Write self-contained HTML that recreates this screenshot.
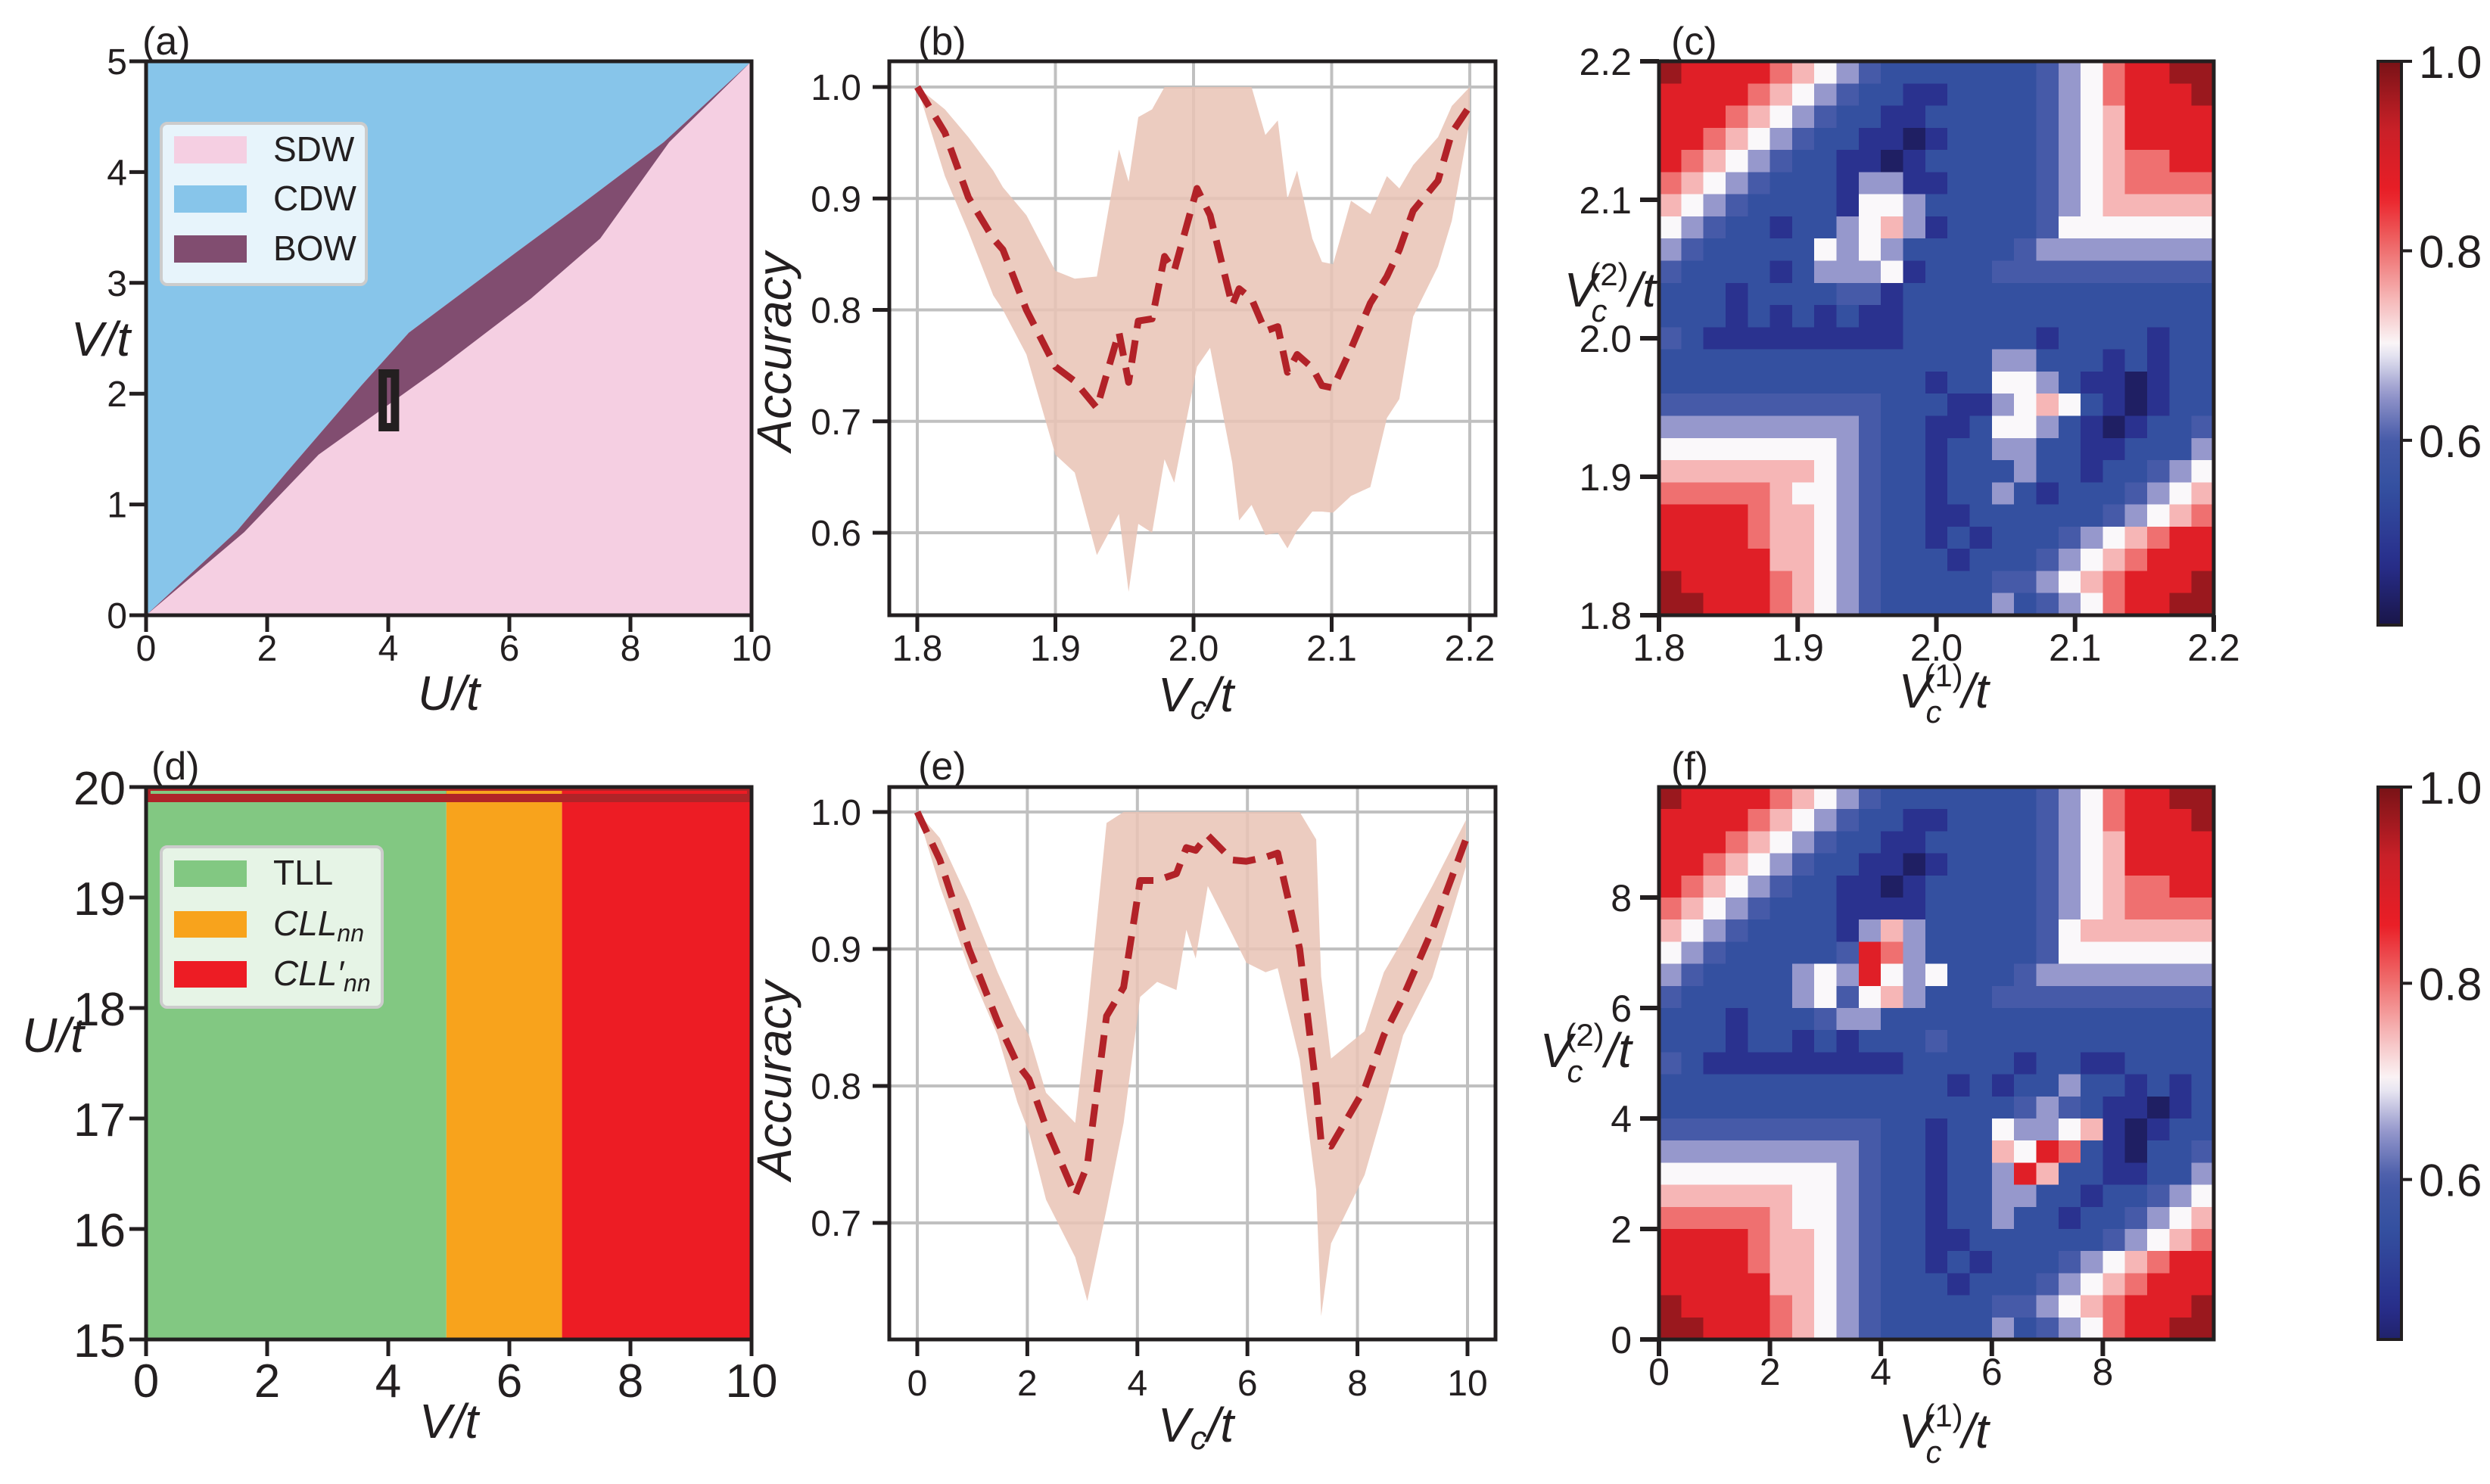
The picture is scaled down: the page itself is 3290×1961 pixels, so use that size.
<!DOCTYPE html>
<html><head><meta charset="utf-8"><style>
html,body{margin:0;padding:0;background:#fff}
svg{display:block}
text{font-family:"Liberation Sans Narrow","Liberation Sans",sans-serif;fill:#231f20}
</style></head><body>
<svg id="fig" xmlns="http://www.w3.org/2000/svg" width="3290" height="1961" viewBox="0 0 3290 1961"></svg>
<script>
// ---------- data ----------
// (a) phase diagram boundaries
const cdwBoundaryU=[0,1.5,2.32,3.55,4.34,6.1,7.24,8.55,10];
const cdwBoundaryV=[0,0.76,1.29,2.07,2.55,3.27,3.73,4.27,5.0];
const sdwBoundaryU=[0,1.62,2.85,4.87,6.36,7.5,8.64,10];
const sdwBoundaryV=[0,0.75,1.45,2.24,2.86,3.4,4.27,5.0];
const markerU=[3.84,4.18];
const markerV=[1.66,2.22];
// (b) accuracy vs Vc/t
const bX=[1.80,1.82,1.837,1.855,1.862,1.879,1.90,1.914,1.93,1.946,1.953,1.96,1.97,1.979,1.986,2.0025,2.012,2.028,2.033,2.042,2.052,2.061,2.068,2.075,2.086,2.093,2.101,2.114,2.128,2.14,2.149,2.159,2.177,2.187,2.20];
const bMean=[1.0,0.959,0.901,0.864,0.854,0.80,0.749,0.736,0.712,0.78,0.735,0.79,0.792,0.848,0.835,0.909,0.885,0.804,0.819,0.81,0.781,0.785,0.744,0.76,0.748,0.732,0.73,0.765,0.806,0.83,0.854,0.889,0.916,0.959,0.983];
const bUpper=[1.0,0.98,0.955,0.925,0.91,0.885,0.835,0.828,0.83,0.944,0.915,0.973,0.98,1.0,1.0,1.0,1.0,1.0,1.0,1.0,0.957,0.97,0.90,0.925,0.864,0.843,0.841,0.898,0.886,0.92,0.909,0.93,0.955,0.983,1.0];
const bLower=[1.0,0.92,0.87,0.813,0.80,0.76,0.67,0.654,0.58,0.617,0.547,0.608,0.60,0.666,0.645,0.749,0.766,0.663,0.611,0.625,0.598,0.60,0.586,0.602,0.619,0.619,0.618,0.633,0.641,0.703,0.72,0.794,0.839,0.88,0.97];
const bXTicks=[1.8,1.9,2.0,2.1,2.2];
const bXTickLabels=["1.8","1.9","2.0","2.1","2.2"];
const bYTicks=[0.6,0.7,0.8,0.9,1.0];
const bYTickLabels=["0.6","0.7","0.8","0.9","1.0"];
// (e) accuracy vs Vc/t
const eX=[0,0.41,0.94,1.46,1.82,2.03,2.34,2.87,3.09,3.44,3.75,4.05,4.36,4.71,4.89,5.06,5.28,5.72,5.98,6.33,6.55,6.95,7.25,7.34,7.52,8.13,8.48,8.83,9.36,9.97];
const eMean=[1.0,0.965,0.90,0.847,0.816,0.805,0.77,0.72,0.742,0.851,0.872,0.95,0.95,0.955,0.974,0.972,0.983,0.965,0.964,0.967,0.97,0.90,0.798,0.759,0.756,0.798,0.837,0.865,0.914,0.98];
const eUpper=[1.0,0.981,0.935,0.883,0.851,0.837,0.795,0.773,0.851,0.992,1.0,1.0,1.0,1.0,1.0,1.0,1.0,1.0,1.0,1.0,1.0,1.0,0.98,0.88,0.82,0.84,0.883,0.907,0.946,0.994];
const eLower=[1.0,0.946,0.886,0.837,0.788,0.766,0.717,0.675,0.643,0.71,0.773,0.865,0.876,0.87,0.914,0.893,0.946,0.911,0.89,0.883,0.886,0.819,0.724,0.632,0.685,0.735,0.784,0.837,0.879,0.96];
const eXTicks=[0,2,4,6,8,10];
const eYTicks=[0.7,0.8,0.9,1.0];
const eYTickLabels=["0.7","0.8","0.9","1.0"];
// (d) phases along V/t
const phaseNames=["TLL","CLLnn","CLL'nn"];
const phaseStart=[0,4.96,6.87];
const phaseEnd=[4.96,6.87,10];
const dYTicks=[15,16,17,18,19,20];
// heatmap levels (digit code -> accuracy)
const levelValues=[0.43,0.48,0.55,0.60,0.65,0.70,0.75,0.80,0.88,0.97];
const heatC=[
"9888876543222222234578899","8888765432211222234578889","8887654322112222234568888","8876543221101222234568888","8765432211012222234567788",
"7654322214411222234567777","6543222215542222234566666","5432212245641222235555555","4322222545422222344444444","3222212444512223333333333",
"2221222233122222222222222","2221212121122222222222222","3211111111122222212222122","2222222222222224422212122","2222222222221225542110122",
"3333333333222114565210122","4444444443221125542101223","5555555543221224422112224","6666666543221222422122345","7777765543221224212223456",
"8888766543221122222234567","8888766543221212223456788","8888866543222122234567888","9888876543222223345678889","9988876543222224234578899"];
const heatF=[
"9888876543222222234578899","8888765432211222234578889","8887654322112222234568888","8876543221101222234568888","8765432211012222234567788",
"7654322211112222234567777","6543222214642222235666666","5432222238742222235555555","4322224548545222344444444","3222224535642223333333333",
"2221222344222222222222222","2221221212223222222222222","3211111111122222122112222","2222222222222121224221212","2222222222222222343211012",
"3333333333221225445610122","4444444443221226587210223","5555555543221224862211224","6666665543221224422122345","7777765543221224221223456",
"8888766543221122222234567","8888766543221212223456788","8888866543222122234567888","9888876543222223345678889","9988876543222224234578899"];
const cTicks=[1.8,1.9,2.0,2.1,2.2];
const cTickLabels=["1.8","1.9","2.0","2.1","2.2"];
const fTicks=[0,2,4,6,8];
const cbTicks=[0.6,0.8,1.0];
const cbTickLabels=["0.6","0.8","1.0"];

// ---------- helpers ----------
const NS="http://www.w3.org/2000/svg";
const svg=document.getElementById('fig');
function mk(tag,attrs,parent){const e=document.createElementNS(NS,tag);for(const k in attrs)e.setAttribute(k,attrs[k]);(parent||svg).appendChild(e);return e;}
const cmapStops=[[0.40,[24,20,68]],[0.47,[40,46,140]],[0.55,[52,80,160]],[0.60,[70,90,168]],[0.65,[150,152,204]],[0.70,[250,248,250]],[0.75,[246,182,182]],[0.80,[239,112,112]],[0.86,[234,30,38]],[0.93,[200,32,40]],[1.0,[120,18,22]]];
function cmap(v){
  if(v<=cmapStops[0][0])return 'rgb('+cmapStops[0][1].join(',')+')';
  for(let i=1;i<cmapStops.length;i++){
    if(v<=cmapStops[i][0]){const a=cmapStops[i-1],b=cmapStops[i];const t=(v-a[0])/(b[0]-a[0]);
      return 'rgb('+[0,1,2].map(k=>Math.round(a[1][k]+t*(b[1][k]-a[1][k]))).join(',')+')';}
  }
  return 'rgb('+cmapStops[cmapStops.length-1][1].join(',')+')';
}
const INK='#231f20';
function text(x,y,s,size,anchor,parent,extra){const t=mk('text',Object.assign({x:x,y:y,'font-size':size,'text-anchor':anchor||'middle'},extra||{}),parent);t.textContent=s;return t;}

// ================= (a) =================
(function(){
  const L=193,R=993,T=81,B=813;
  const X=u=>L+(u/10)*(R-L), Y=v=>B-(v/5)*(B-T);
  const g=mk('g',{});
  
  
  let r=mk('rect',{x:L,y:T,width:R-L,height:B-T,fill:'#f5cfe2'},g);
  
  
  let p='M'+X(0)+','+Y(5)+' ';
  cdwBoundaryU.forEach((u,i)=>{p+='L'+X(u)+','+Y(cdwBoundaryV[i])+' ';});
  p+='L'+X(10)+','+Y(5)+'Z';
  let cdw=mk('path',{d:p,fill:'#87c5ea'},g);
  
  
  let q='M'+X(cdwBoundaryU[0])+','+Y(cdwBoundaryV[0])+' ';
  cdwBoundaryU.forEach((u,i)=>{q+='L'+X(u)+','+Y(cdwBoundaryV[i])+' ';});
  for(let i=sdwBoundaryU.length-1;i>=0;i--){q+='L'+X(sdwBoundaryU[i])+','+Y(sdwBoundaryV[i])+' ';}
  q+='Z';
  let bow=mk('path',{d:q,fill:'#814d70'},g);
  
  
  let m=mk('rect',{x:X(markerU[0])+5.5,y:Y(markerV[1])+5.5,width:X(markerU[1])-X(markerU[0])-11,height:Y(markerV[0])-Y(markerV[1])-11,fill:'none',stroke:INK,'stroke-width':11},g);
  
  
  let sp=mk('rect',{x:L,y:T,width:R-L,height:B-T,fill:'none',stroke:INK,'stroke-width':5},g);
  
  
  [0,2,4,6,8,10].forEach(u=>{
    let tk=mk('line',{x1:X(u),x2:X(u),y1:B,y2:B+22,stroke:INK,'stroke-width':5},g);
    
    
    let tl=text(X(u),873,String(u),48,'middle',g);
    
    
  });
  [0,1,2,3,4,5].forEach(v=>{
    let tk=mk('line',{x1:L-22,x2:L,y1:Y(v),y2:Y(v),stroke:INK,'stroke-width':5},g);
    
    
    let tl=text(168,Y(v)+17,String(v),48,'end',g);
    
    
  });
  let xl=text(593,938,'U/t',64,'middle',g,{'font-style':'italic'});
  
  
  let yl=text(133,470,'V/t',64,'middle',g,{'font-style':'italic'});
  
  
  let pl=text(188,72,'(a)',52,'start',g);
  
  
  // legend
  let lg=mk('g',{},g);
  
  
  mk('rect',{x:213,y:163,width:271,height:213,rx:8,fill:'#ffffff','fill-opacity':0.8,stroke:'#cccccc','stroke-width':4},lg);
  const names=['SDW','CDW','BOW'],cols=['#f5cfe2','#87c5ea','#814d70'],ys=[180,245,311];
  names.forEach((n,i)=>{
    let e=mk('g',{},lg);
    
    
    mk('rect',{x:230,y:ys[i],width:96,height:36,fill:cols[i]},e);
    text(361,ys[i]+33,n,46,'start',e);
  });
})();

// ================= (d) =================
(function(){
  const L=193,R=993,T=1040,B=1770;
  const X=v=>L+(v/10)*(R-L), Y=u=>B-((u-15)/5)*(B-T);
  const cols=['#82c882','#f8a31c','#ed1c24'];
  const g=mk('g',{});
  
  
  phaseNames.forEach((n,i)=>{
    let r=mk('rect',{x:X(phaseStart[i]),y:T,width:X(phaseEnd[i])-X(phaseStart[i]),height:B-T,fill:cols[i]},g);
    
    
  });
  let band=mk('rect',{x:L,y:1042,width:R-L,height:18,fill:'#b02428'},g);
  
  
  phaseNames.forEach((n,i)=>{
    let s=mk('rect',{x:Math.max(X(phaseStart[i]),199),y:1045,width:X(phaseEnd[i])-Math.max(X(phaseStart[i]),199)-(i==2?6:0),height:4,fill:cols[i]},g);
    
    
  });
  let sp=mk('rect',{x:L,y:T,width:R-L,height:B-T,fill:'none',stroke:INK,'stroke-width':5},g);
  
  
  [0,2,4,6,8,10].forEach(v=>{
    let tk=mk('line',{x1:X(v),x2:X(v),y1:B,y2:B+22,stroke:INK,'stroke-width':5},g);
    
    
    let tl=text(X(v),1846,String(v),62,'middle',g);
    
    
  });
  dYTicks.forEach(u=>{
    let tk=mk('line',{x1:L-22,x2:L,y1:Y(u),y2:Y(u),stroke:INK,'stroke-width':5},g);
    
    
    let tl=text(166,Y(u)+23,String(u),62,'end',g);
    
    
  });
  let xl=text(593,1900,'V/t',64,'middle',g,{'font-style':'italic'});
  
  
  let yl=text(70,1390,'U/t',64,'middle',g,{'font-style':'italic'});
  
  
  let pl=text(200,1030,'(d)',52,'start',g);
  
  
  let lg=mk('g',{},g);
  
  
  mk('rect',{x:213,y:1119,width:292,height:212,rx:8,fill:'#ffffff','fill-opacity':0.8,stroke:'#cccccc','stroke-width':4},lg);
  const ys=[1137,1204,1270];
  phaseNames.forEach((n,i)=>{
    let e=mk('g',{},lg);
    
    
    mk('rect',{x:230,y:ys[i],width:96,height:35,fill:cols[i]},e);
    const t=mk('text',{x:361,y:ys[i]+32,'font-size':46,'text-anchor':'start'},e);
    if(i==0){t.textContent='TLL';}
    else{
      const a=mk('tspan',{'font-style':'italic'},t);a.textContent=(i==1?'CLL':"CLL\u2032");
      const b=mk('tspan',{'font-style':'italic','font-size':32,dy:8},t);b.textContent='nn';
    }
  });
})();

// ================= line panels (b),(e) =================
function linePanel(name,label,T,B,xs,mean,up,lo,xmin,xmax,x0px,x1px,xTicks,xTickLabels,yTicks,yTickLabels,yAt1,yAtLow,yLowVal,tickLabelY,xTitleY,yTitleY,labelY){
  const L=1175,R=1976;
  const X=v=>x0px+(v-xmin)/(xmax-xmin)*(x1px-x0px);
  const Y=a=>yAt1+(1-a)/(1-yLowVal)*(yAtLow-yAt1);
  const g=mk('g',{});
  
  
  const cp=mk('clipPath',{id:name+'-clip'},g);
  mk('rect',{x:L,y:T,width:R-L,height:B-T},cp);
  const gg=mk('g',{},g);
  
  
  xTicks.forEach(v=>mk('line',{x1:X(v),x2:X(v),y1:T,y2:B,stroke:'#c0c0c0','stroke-width':4},gg));
  yTicks.forEach(v=>mk('line',{x1:L,x2:R,y1:Y(v),y2:Y(v),stroke:'#c0c0c0','stroke-width':4},gg));
  let d='M'+X(xs[0])+','+Y(up[0]);
  for(let i=1;i<xs.length;i++)d+=' L'+X(xs[i])+','+Y(up[i]);
  for(let i=xs.length-1;i>=0;i--)d+=' L'+X(xs[i])+','+Y(lo[i]);
  d+='Z';
  const band=mk('path',{d:d,fill:'#e9c3b5','fill-opacity':0.85,'clip-path':'url(#'+name+'-clip)'},g);
  
  
  let m='M'+X(xs[0])+','+Y(mean[0]);
  for(let i=1;i<xs.length;i++)m+=' L'+X(xs[i])+','+Y(mean[i]);
  const ln=mk('path',{d:m,fill:'none',stroke:'#b22228','stroke-width':9,'stroke-dasharray':'30,16','stroke-linejoin':'round'},g);
  
  
  const sp=mk('rect',{x:L,y:T,width:R-L,height:B-T,fill:'none',stroke:INK,'stroke-width':5},g);
  
  
  xTicks.forEach((v,i)=>{
    let tk=mk('line',{x1:X(v),x2:X(v),y1:B,y2:B+22,stroke:INK,'stroke-width':5},g);
    
    
    let tl=text(X(v),tickLabelY,xTickLabels[i],48,'middle',g);
    
    
  });
  yTicks.forEach((v,i)=>{
    let tk=mk('line',{x1:L-22,x2:L,y1:Y(v),y2:Y(v),stroke:INK,'stroke-width':5},g);
    
    
    let tl=text(1138,Y(v)+17,yTickLabels[i],48,'end',g);
    
    
  });
  const xt=mk('text',{x:1580,y:xTitleY,'font-size':64,'text-anchor':'middle','font-style':'italic'},g);
  
  
  const t1=mk('tspan',{},xt);t1.textContent='V';
  const t2=mk('tspan',{'font-size':44,dy:10},xt);t2.textContent='c';
  const t3=mk('tspan',{dy:-10},xt);t3.textContent='/t';
  const yt=text(1045,yTitleY,'Accuracy',64,'middle',g,{'font-style':'italic',transform:'rotate(-90 1045 '+yTitleY+')'});
  
  
  const pl=text(1213,labelY,label,52,'start',g);
  
  
}
linePanel('panel-b','(b)',81,813,bX,bMean,bUpper,bLower,1.8,2.2,1212,1942,bXTicks,bXTickLabels,bYTicks,bYTickLabels,115,704,0.6,873,940,465,72);
linePanel('panel-e','(e)',1040,1770,eX,eMean,eUpper,eLower,0,10,1212,1939,eXTicks,eXTicks.map(String),eYTicks,eYTickLabels,1073,1616,0.7,1844,1905,1428,1030);

// ================= heatmaps (c),(f) =================
function heatPanel(name,label,T,B,grid,ticks,tickLabels,tickMin,tickMax,labelY,yTitleX,yTitleY,xTitleY,cbMin,cbBottom){
  const L=2192,R=2925;
  const g=mk('g',{});
  
  
  const n=grid.length,cw=(R-L)/grid[0].length,ch=(B-T)/n;
  const hg=mk('g',{'shape-rendering':'crispEdges'},g);
  
  
  grid.forEach((row,r)=>{
    for(let c=0;c<row.length;c++){
      const v=levelValues[+row[c]];
      const cell=mk('rect',{x:L+c*cw,y:T+r*ch,width:cw+0.6,height:ch+0.6,fill:cmap(v)},hg);
      
      
    }
  });
  const sp=mk('rect',{x:L,y:T,width:R-L,height:B-T,fill:'none',stroke:INK,'stroke-width':5},g);
  
  
  const X=v=>L+(v-tickMin)/(tickMax-tickMin)*(R-L);
  const Y=v=>B-(v-tickMin)/(tickMax-tickMin)*(B-T);
  ticks.forEach((v,i)=>{
    let tk=mk('line',{x1:X(v),x2:X(v),y1:B,y2:B+22,stroke:INK,'stroke-width':6},g);
    
    
    let tl=text(X(v),B+60,tickLabels[i],50,'middle',g);
    
    
    let tk2=mk('line',{x1:L-25,x2:L,y1:Y(v),y2:Y(v),stroke:INK,'stroke-width':6},g);
    
    
    let tl2=text(2156,Y(v)+18,tickLabels[i],50,'end',g);
    
    
  });
  const xt=mk('g',{},g);
  
  
  text(2530,xTitleY,'V',64,'middle',xt,{'font-style':'italic'});
  text(2568,xTitleY-28,'(1)',42,'middle',xt);
  text(2555,xTitleY+20,'c',42,'middle',xt,{'font-style':'italic'});
  text(2610,xTitleY,'/t',64,'middle',xt,{'font-style':'italic'});
  const yt=mk('g',{},g);
  
  
  text(yTitleX-52,yTitleY,'V',64,'middle',yt,{'font-style':'italic'});
  text(yTitleX-14,yTitleY-28,'(2)',42,'middle',yt);
  text(yTitleX-27,yTitleY+20,'c',42,'middle',yt,{'font-style':'italic'});
  text(yTitleX+30,yTitleY,'/t',64,'middle',yt,{'font-style':'italic'});
  const pl=text(2208,labelY,label,52,'start',g);
  
  
  // colorbar
  const cb=mk('g',{},g);
  
  
  const gid=name+'-grad';
  const lgr=mk('linearGradient',{id:gid,x1:0,y1:1,x2:0,y2:0},cb);
  for(let k=0;k<=40;k++){const v=cbMin+(1-cbMin)*k/40;mk('stop',{offset:(k/40),'stop-color':cmap(v)},lgr);}
  mk('rect',{x:3142,y:T,width:31,height:cbBottom-T,fill:'url(#'+gid+')',stroke:INK,'stroke-width':4},cb);
  const CY=v=>cbBottom-(v-cbMin)/(1-cbMin)*(cbBottom-T);
  cbTicks.forEach((v,i)=>{
    let tk=mk('line',{x1:3173,x2:3187,y1:CY(v),y2:CY(v),stroke:INK,'stroke-width':4},cb);
    
    
    let tl=text(3196,CY(v)+22,cbTickLabels[i],60,'start',cb);
    
    
  });
}
heatPanel('panel-c','(c)',81,813,heatC,cTicks,cTickLabels,1.8,2.2,72,2140,405,935,0.405,826);
heatPanel('panel-f','(f)',1040,1770,heatF,fTicks,fTicks.map(String),0,10,1030,2108,1410,1913,0.437,1770);
</script>
</body></html>
